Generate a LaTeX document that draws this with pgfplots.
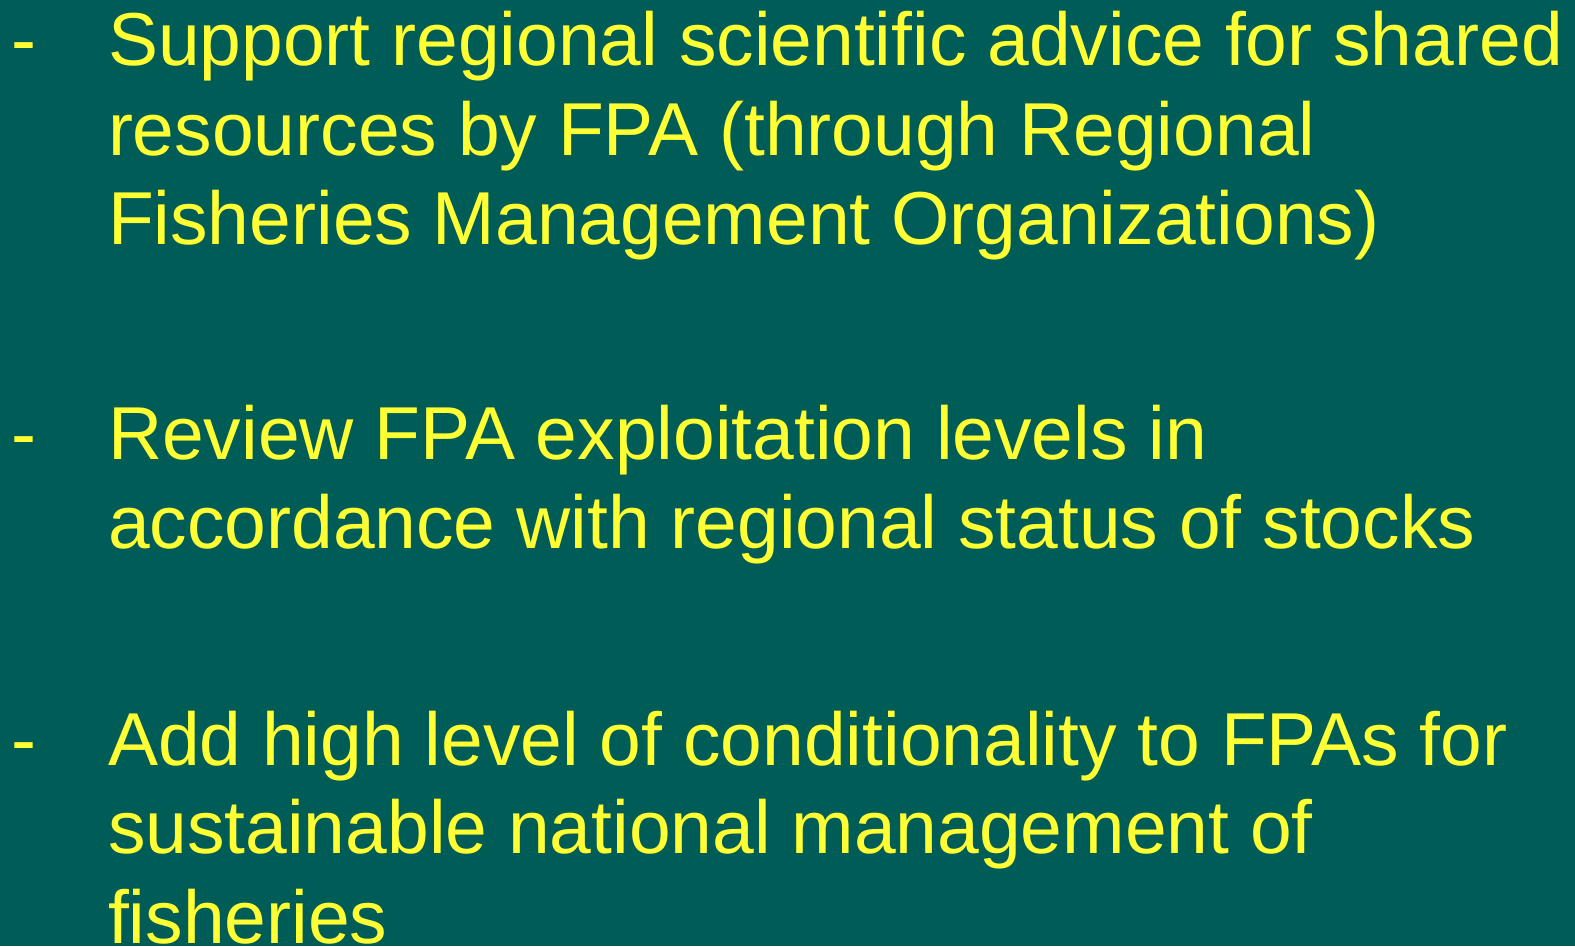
\documentclass[border=0pt]{standalone}
\usepackage{pgfplots}
\pgfplotsset{compat=1.18}
\usepackage{fontspec}
\setmainfont{Liberation Sans}
\definecolor{bg}{RGB}{0,92,87}
\definecolor{txt}{RGB}{255,255,51}
\tikzset{slide/.style={anchor=base west, inner sep=0pt, outer sep=0pt, text=txt, font=\fontsize{22.5}{27}\selectfont}}
\begin{document}
\begin{tikzpicture}
\path[use as bounding box] (0,0) rectangle (472.5pt,283.8pt);
\fill[bg] (0,0) rectangle (472.5pt,283.8pt);
\begin{axis}[at={(0,0)}, anchor=south west, width=472.5pt, height=283.8pt,
  scale only axis, hide axis, xmin=0, xmax=1575, ymin=0, ymax=946, y dir=reverse,
  clip=false]
\node[slide] at (axis cs:11,66) {-};
\node[slide] at (axis cs:11,459) {-};
\node[slide] at (axis cs:11,765) {-};
\node[slide] at (axis cs:108,66) {Support regional scientific advice for shared};
\node[slide] at (axis cs:108,156) {resources by FPA (through Regional};
\node[slide] at (axis cs:108,245) {Fisheries Management Organizations)};
\node[slide] at (axis cs:108,459) {Review FPA exploitation levels in};
\node[slide] at (axis cs:108,548) {accordance with regional status of stocks};
\node[slide] at (axis cs:108,765) {Add high level of conditionality to FPAs for};
\node[slide] at (axis cs:108,853) {sustainable national management of};
\node[slide] at (axis cs:108,943) {fisheries};
\end{axis}
\end{tikzpicture}
\end{document}
